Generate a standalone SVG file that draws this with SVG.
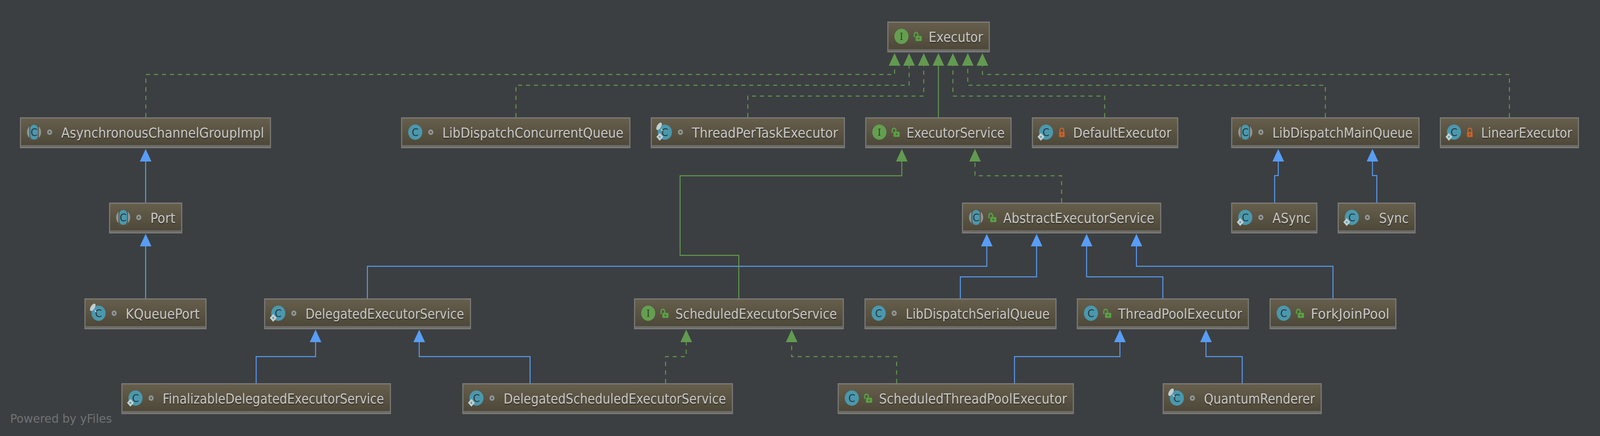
<svg xmlns="http://www.w3.org/2000/svg" width="4416" height="1115" viewBox="0 0 4416 1115" preserveAspectRatio="none" style="display:block;width:100vw;height:100vh">
<style>
.bg{fill:#3c3f41}
.box{fill:url(#nodeFill);stroke:#7b7b78;stroke-width:3}
.band{fill:#6d6b66}
.lbl{font-family:"DejaVu Sans","Liberation Sans",sans-serif;font-size:35px;fill:#c4c4c2;filter:url(#txtShadow)}
.ic{font-family:"DejaVu Sans","Liberation Sans",sans-serif;font-size:27px;fill:#26343b;text-anchor:middle}
.ii{font-family:"DejaVu Serif","Liberation Serif",serif;font-size:24px;fill:#2c3a26;text-anchor:middle}
.c{fill:none;stroke-width:2.6}
.blue{stroke:#589df6;marker-end:url(#aBlue)}
.green{stroke:#629a50;marker-end:url(#aGreen)}
.dash{stroke-dasharray:11 11}
.foot{font-family:"DejaVu Sans",sans-serif;font-size:30px;fill:#6f7376}
</style>
<defs>
<linearGradient id="nodeFill" x1="0" y1="0" x2="0" y2="1"><stop offset="0" stop-color="#675f4c"/><stop offset="1" stop-color="#4b4638"/></linearGradient>
<filter id="txtShadow" x="-5%" y="-20%" width="110%" height="150%"><feDropShadow dx="0.5" dy="2" stdDeviation="0.8" flood-color="#1e1c14" flood-opacity="0.8"/></filter>
<marker id="aBlue" viewBox="0 0 32 32" refX="0" refY="16" markerWidth="32" markerHeight="32" markerUnits="userSpaceOnUse" orient="auto"><path d="M0,0L32,16L0,32z" fill="#589df6"/></marker>
<marker id="aGreen" viewBox="0 0 32 32" refX="0" refY="16" markerWidth="32" markerHeight="32" markerUnits="userSpaceOnUse" orient="auto"><path d="M0,0L32,16L0,32z" fill="#629a50"/></marker>
<circle id="icC" cx="39" cy="38" r="19.5" fill="#4a98ad"/>
<g id="icA"><circle cx="39" cy="38" r="19.5" fill="#8d9695"/><rect x="26" y="18" width="26" height="40" fill="#5a5445"/><rect x="28.500" y="19" width="21" height="38" rx="9.500" fill="#4a98ad"/></g>
<circle id="icI" cx="39" cy="38" r="19.500" fill="#649f50"/>
<g id="dia"><path d="M25,40L34.500,50L25,60L15.500,50z" fill="#c3ced2"/><circle cx="25" cy="50" r="2.500" fill="#4a98ad"/></g>
<g id="pin"><ellipse cx="23" cy="23" rx="5.500" ry="11" transform="rotate(35 23 23)" fill="#c3ced2"/><path d="M28,30L33,35" stroke="#c3ced2" stroke-width="2.500"/></g>
<circle id="vDot" cx="82" cy="38" r="4.800" fill="#57523f" stroke="#8d9797" stroke-width="4.500"/>
<g id="vPub"><path d="M74.500,40V33a5,5 0 0 1 10,0V37" fill="none" stroke="#5aa045" stroke-width="3.500"/><rect x="78" y="37" width="17" height="13" rx="2" fill="#5aa045"/><circle cx="86.500" cy="43.500" r="2" fill="#4e4a3a"/></g>
<g id="vPri"><path d="M77.500,40V33a5.200,5.200 0 0 1 10.400,0V40" fill="none" stroke="#c8622c" stroke-width="3.200"/><rect x="75" y="38" width="15.500" height="12.500" rx="2" fill="#c8622c"/><circle cx="82.700" cy="44" r="1.800" fill="#5a3a20"/></g>
</defs>
<rect class="bg" width="4416" height="1115"/>
<g id="connectors">
<path id="e-port-acgi" class="c blue" d="M402,518V413"/>
<path id="e-kq-port" class="c blue" d="M402,763V630"/>
<path id="e-async" class="c blue" d="M3518,518V449H3528V413"/>
<path id="e-sync" class="c blue" d="M3800,518V449H3788V413"/>
<path id="e-del" class="c blue" d="M1014,763V681H2723.500V630"/>
<path id="e-ser" class="c blue" d="M2650.500,763V708H2861V630"/>
<path id="e-tpe" class="c blue" d="M3209.500,763V708H2999V630"/>
<path id="e-fjp" class="c blue" d="M3679,763V681H3136.500V630"/>
<path id="e-fin" class="c blue" d="M707,980V912H871V875"/>
<path id="e-ds" class="c blue" d="M1463,980V912H1157V875"/>
<path id="e-stpe" class="c blue" d="M2800,980V912H3091V875"/>
<path id="e-qr" class="c blue" d="M3428.500,980V912H3328.500V875"/>
<path id="e-acgi" class="c green dash" d="M402.500,300V190.500H2469V168"/>
<path id="e-ldcq" class="c green dash" d="M1424,300V218H2509V168"/>
<path id="e-tpte" class="c green dash" d="M2064,300V245.700H2549.500V168"/>
<path id="e-es" class="c green" d="M2590,300V168"/>
<path id="e-de" class="c green dash" d="M3049,300V245.700H2630V168"/>
<path id="e-ldmq" class="c green dash" d="M3658,300V218H2671V168"/>
<path id="e-le" class="c green dash" d="M4166,300V190.500H2711.500V168"/>
<path id="e-aes" class="c green dash" d="M2930,518V449.500H2691V413"/>
<path id="e-ses" class="c green" d="M2039,763V653H1877V449.500H2489V413"/>
<path id="e-dses" class="c green dash" d="M1837,980V912H1894V875"/>
<path id="e-stses" class="c green dash" d="M2474.500,980V912H2185V875"/>
</g>
<g id="n-Executor" transform="translate(2449,55)"><rect class="box" x="1.500" y="1.500" width="280" height="76"/><rect class="band" x="3" y="71" width="277" height="5"/><use href="#icI"/><text class="ii" x="39" y="47">I</text><use href="#vPub"/><text class="lbl" x="114" y="52" textLength="150" lengthAdjust="spacingAndGlyphs">Executor</text></g>
<g id="n-AsynchronousChannelGroupImpl" transform="translate(55,300)"><rect class="box" x="1.500" y="1.500" width="690" height="76"/><rect class="band" x="3" y="71" width="687" height="5"/><use href="#icA"/><text class="ic" x="39" y="48">C</text><use href="#vDot"/><text class="lbl" x="114" y="52" textLength="560" lengthAdjust="spacingAndGlyphs">AsynchronousChannelGroupImpl</text></g>
<g id="n-LibDispatchConcurrentQueue" transform="translate(1107,300)"><rect class="box" x="1.500" y="1.500" width="630" height="76"/><rect class="band" x="3" y="71" width="627" height="5"/><use href="#icC"/><text class="ic" x="39" y="48">C</text><use href="#vDot"/><text class="lbl" x="114" y="52" textLength="500" lengthAdjust="spacingAndGlyphs">LibDispatchConcurrentQueue</text></g>
<g id="n-ThreadPerTaskExecutor" transform="translate(1796,300)"><rect class="box" x="1.500" y="1.500" width="533" height="76"/><rect class="band" x="3" y="71" width="530" height="5"/><use href="#icC"/><text class="ic" x="39" y="48">C</text><use href="#pin"/><use href="#dia"/><use href="#vDot"/><text class="lbl" x="114" y="52" textLength="403" lengthAdjust="spacingAndGlyphs">ThreadPerTaskExecutor</text></g>
<g id="n-ExecutorService" transform="translate(2388,300)"><rect class="box" x="1.500" y="1.500" width="401" height="76"/><rect class="band" x="3" y="71" width="398" height="5"/><use href="#icI"/><text class="ii" x="39" y="47">I</text><use href="#vPub"/><text class="lbl" x="114" y="52" textLength="271" lengthAdjust="spacingAndGlyphs">ExecutorService</text></g>
<g id="n-DefaultExecutor" transform="translate(2848,300)"><rect class="box" x="1.500" y="1.500" width="401" height="76"/><rect class="band" x="3" y="71" width="398" height="5"/><use href="#icC"/><text class="ic" x="39" y="48">C</text><use href="#dia"/><use href="#vPri"/><text class="lbl" x="114" y="52" textLength="271" lengthAdjust="spacingAndGlyphs">DefaultExecutor</text></g>
<g id="n-LibDispatchMainQueue" transform="translate(3398,300)"><rect class="box" x="1.500" y="1.500" width="517" height="76"/><rect class="band" x="3" y="71" width="514" height="5"/><use href="#icA"/><text class="ic" x="39" y="48">C</text><use href="#vDot"/><text class="lbl" x="114" y="52" textLength="387" lengthAdjust="spacingAndGlyphs">LibDispatchMainQueue</text></g>
<g id="n-LinearExecutor" transform="translate(3974,300)"><rect class="box" x="1.500" y="1.500" width="381" height="76"/><rect class="band" x="3" y="71" width="378" height="5"/><use href="#icC"/><text class="ic" x="39" y="48">C</text><use href="#dia"/><use href="#vPri"/><text class="lbl" x="114" y="52" textLength="251" lengthAdjust="spacingAndGlyphs">LinearExecutor</text></g>
<g id="n-Port" transform="translate(301,518)"><rect class="box" x="1.500" y="1.500" width="199" height="76"/><rect class="band" x="3" y="71" width="196" height="5"/><use href="#icA"/><text class="ic" x="39" y="48">C</text><use href="#vDot"/><text class="lbl" x="114" y="52" textLength="69" lengthAdjust="spacingAndGlyphs">Port</text></g>
<g id="n-AbstractExecutorService" transform="translate(2655,518)"><rect class="box" x="1.500" y="1.500" width="547" height="76"/><rect class="band" x="3" y="71" width="544" height="5"/><use href="#icA"/><text class="ic" x="39" y="48">C</text><use href="#vPub"/><text class="lbl" x="114" y="52" textLength="417" lengthAdjust="spacingAndGlyphs">AbstractExecutorService</text></g>
<g id="n-ASync" transform="translate(3398,518)"><rect class="box" x="1.500" y="1.500" width="235" height="76"/><rect class="band" x="3" y="71" width="232" height="5"/><use href="#icC"/><text class="ic" x="39" y="48">C</text><use href="#dia"/><use href="#vDot"/><text class="lbl" x="114" y="52" textLength="105" lengthAdjust="spacingAndGlyphs">ASync</text></g>
<g id="n-Sync" transform="translate(3692,518)"><rect class="box" x="1.500" y="1.500" width="212" height="76"/><rect class="band" x="3" y="71" width="209" height="5"/><use href="#icC"/><text class="ic" x="39" y="48">C</text><use href="#dia"/><use href="#vDot"/><text class="lbl" x="114" y="52" textLength="82" lengthAdjust="spacingAndGlyphs">Sync</text></g>
<g id="n-KQueuePort" transform="translate(233,763)"><rect class="box" x="1.500" y="1.500" width="334" height="76"/><rect class="band" x="3" y="71" width="331" height="5"/><use href="#icC"/><text class="ic" x="39" y="48">C</text><use href="#pin"/><use href="#vDot"/><text class="lbl" x="114" y="52" textLength="204" lengthAdjust="spacingAndGlyphs">KQueuePort</text></g>
<g id="n-DelegatedExecutorService" transform="translate(729,763)"><rect class="box" x="1.500" y="1.500" width="568" height="76"/><rect class="band" x="3" y="71" width="565" height="5"/><use href="#icC"/><text class="ic" x="39" y="48">C</text><use href="#dia"/><use href="#vDot"/><text class="lbl" x="114" y="52" textLength="438" lengthAdjust="spacingAndGlyphs">DelegatedExecutorService</text></g>
<g id="n-ScheduledExecutorService" transform="translate(1750,763)"><rect class="box" x="1.500" y="1.500" width="576" height="76"/><rect class="band" x="3" y="71" width="573" height="5"/><use href="#icI"/><text class="ii" x="39" y="47">I</text><use href="#vPub"/><text class="lbl" x="114" y="52" textLength="446" lengthAdjust="spacingAndGlyphs">ScheduledExecutorService</text></g>
<g id="n-LibDispatchSerialQueue" transform="translate(2386,763)"><rect class="box" x="1.500" y="1.500" width="527" height="76"/><rect class="band" x="3" y="71" width="524" height="5"/><use href="#icC"/><text class="ic" x="39" y="48">C</text><use href="#vDot"/><text class="lbl" x="114" y="52" textLength="397" lengthAdjust="spacingAndGlyphs">LibDispatchSerialQueue</text></g>
<g id="n-ThreadPoolExecutor" transform="translate(2972,763)"><rect class="box" x="1.500" y="1.500" width="472" height="76"/><rect class="band" x="3" y="71" width="469" height="5"/><use href="#icC"/><text class="ic" x="39" y="48">C</text><use href="#vPub"/><text class="lbl" x="114" y="52" textLength="342" lengthAdjust="spacingAndGlyphs">ThreadPoolExecutor</text></g>
<g id="n-ForkJoinPool" transform="translate(3504,763)"><rect class="box" x="1.500" y="1.500" width="347" height="76"/><rect class="band" x="3" y="71" width="344" height="5"/><use href="#icC"/><text class="ic" x="39" y="48">C</text><use href="#vPub"/><text class="lbl" x="114" y="52" textLength="217" lengthAdjust="spacingAndGlyphs">ForkJoinPool</text></g>
<g id="n-FinalizableDelegatedExecutorService" transform="translate(335,980)"><rect class="box" x="1.500" y="1.500" width="741" height="76"/><rect class="band" x="3" y="71" width="738" height="5"/><use href="#icC"/><text class="ic" x="39" y="48">C</text><use href="#dia"/><use href="#vDot"/><text class="lbl" x="114" y="52" textLength="611" lengthAdjust="spacingAndGlyphs">FinalizableDelegatedExecutorService</text></g>
<g id="n-DelegatedScheduledExecutorService" transform="translate(1276,980)"><rect class="box" x="1.500" y="1.500" width="744" height="76"/><rect class="band" x="3" y="71" width="741" height="5"/><use href="#icC"/><text class="ic" x="39" y="48">C</text><use href="#dia"/><use href="#vDot"/><text class="lbl" x="114" y="52" textLength="614" lengthAdjust="spacingAndGlyphs">DelegatedScheduledExecutorService</text></g>
<g id="n-ScheduledThreadPoolExecutor" transform="translate(2312,980)"><rect class="box" x="1.500" y="1.500" width="649" height="76"/><rect class="band" x="3" y="71" width="646" height="5"/><use href="#icC"/><text class="ic" x="39" y="48">C</text><use href="#vPub"/><text class="lbl" x="114" y="52" textLength="519" lengthAdjust="spacingAndGlyphs">ScheduledThreadPoolExecutor</text></g>
<g id="n-QuantumRenderer" transform="translate(3209,980)"><rect class="box" x="1.500" y="1.500" width="436" height="76"/><rect class="band" x="3" y="71" width="433" height="5"/><use href="#icC"/><text class="ic" x="39" y="48">C</text><use href="#pin"/><use href="#vDot"/><text class="lbl" x="114" y="52" textLength="306" lengthAdjust="spacingAndGlyphs">QuantumRenderer</text></g>
<text class="foot" x="28" y="1081" textLength="281" lengthAdjust="spacingAndGlyphs">Powered by yFiles</text>
</svg>
